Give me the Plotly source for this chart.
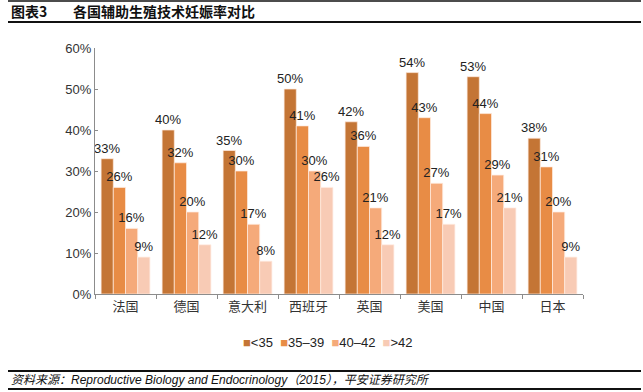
import plotly.graph_objects as go

categories = ["法国", "德国", "意大利", "西班牙", "英国", "美国", "中国", "日本"]
series_names = ["<35", "35–39", "40–42", ">42"]
vals_lt35 = [33, 40, 35, 50, 42, 54, 53, 38]
vals_35_39 = [26, 32, 30, 41, 36, 43, 44, 31]
vals_40_42 = [16, 20, 17, 30, 21, 27, 29, 20]
vals_gt42 = [9, 12, 8, 26, 12, 17, 21, 9]
colors = ["#C47535", "#E88C45", "#F5AA7A", "#F8CBB5"]
ytick_vals = [0, 10, 20, 30, 40, 50, 60]
ytick_text = ["0%", "10%", "20%", "30%", "40%", "50%", "60%"]

FONT = "Liberation Sans, Arial, Noto Sans CJK SC, sans-serif"
CJK = "Noto Sans CJK SC, Liberation Sans, sans-serif"

fig = go.Figure()
for name, vals, col in zip(series_names, [vals_lt35, vals_35_39, vals_40_42, vals_gt42], colors):
    fig.add_trace(go.Bar(
        x=categories, y=vals, name=name,
        marker=dict(color=col, line=dict(color="rgba(255,235,225,0.9)", width=0.8)),
        text=[f"{v}%" for v in vals], textposition="outside",
        textfont=dict(family=FONT, size=13, color="#222222"),
        constraintext="none", cliponaxis=False, showlegend=False,
    ))

L, R, T, B = 95, 60, 48, 98
W, H = 643, 392
pw, ph = W - L - R, H - T - B

def px(x):
    return (x - L) / pw

def py(y):
    return (H - B - y) / ph

fig.update_layout(
    width=W, height=H,
    margin=dict(l=L, r=R, t=T, b=B),
    paper_bgcolor="white", plot_bgcolor="white",
    barmode="group", bargap=0.2, bargroupgap=0,
    font=dict(family=FONT, color="#333333"),
    xaxis=dict(showline=True, linecolor="#8c8c8c", linewidth=1,
               ticks="outside", tickson="boundaries", ticklen=4, tickcolor="#8c8c8c",
               tickfont=dict(family=CJK, size=13, color="#333333"), showgrid=False),
    yaxis=dict(range=[0, 60], tickvals=ytick_vals, ticktext=ytick_text,
               showline=True, linecolor="#8c8c8c", linewidth=1,
               ticks="inside", ticklen=3, tickcolor="#8c8c8c",
               tickfont=dict(family=FONT, size=13, color="#333333"),
               showgrid=False, zeroline=False),
)

# legend built from series names and colours
legend_text = "  ".join(
    f'<span style="color:{c}">■</span>{n}' for n, c in zip(series_names, colors)
)
fig.add_annotation(xref="paper", yref="paper", x=px(328), y=py(342),
                   xanchor="center", yanchor="middle", showarrow=False,
                   text=legend_text, font=dict(family=FONT, size=13, color="#222222"))

# title
fig.add_annotation(xref="paper", yref="paper", x=px(9), y=py(11), xanchor="left", yanchor="middle",
                   showarrow=False, text="<b>图表3</b>", font=dict(family=CJK, size=14, color="#111111"))
fig.add_annotation(xref="paper", yref="paper", x=px(71), y=py(11), xanchor="left", yanchor="middle",
                   showarrow=False, text="<b>各国辅助生殖技术妊娠率对比</b>",
                   font=dict(family=CJK, size=14, color="#111111"))
# source
fig.add_annotation(xref="paper", yref="paper", x=px(9), y=py(380), xanchor="left", yanchor="middle",
                   showarrow=False,
                   text="<i>资料来源：Reproductive Biology and Endocrinology（2015），平安证券研究所</i>",
                   font=dict(family=FONT, size=12, color="#111111"))

for yy, w in [(1, 1.5), (22, 2), (371, 2), (389, 2)]:
    fig.add_shape(type="line", xref="paper", yref="paper", x0=px(8), x1=px(641),
                  y0=py(yy), y1=py(yy), line=dict(color="#111111", width=w))

fig.write_html("out.html", config={"displayModeBar": False},
               post_script="document.body.style.margin='0';document.body.style.overflow='hidden';")
